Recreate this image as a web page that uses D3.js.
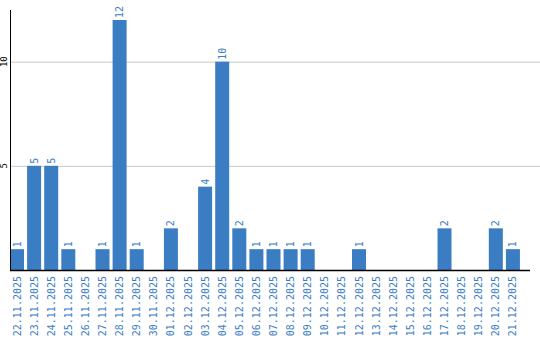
<!doctype html>
<html>
  <head>
    <meta charset="utf-8">
    <title>Daily counts</title>
    <script src="https://cdnjs.cloudflare.com/ajax/libs/d3/7.8.5/d3.min.js"></script>
    <style>
      body { margin: 0; background: #fff; }
      text { font-family: "DejaVu Sans Mono", monospace; }
    </style>
  </head>
  <body>
    <div id="chart"></div>
    <script>
      // data
      const dates = ['22.11.2025','23.11.2025','24.11.2025','25.11.2025','26.11.2025','27.11.2025',
                     '28.11.2025','29.11.2025','30.11.2025','01.12.2025','02.12.2025','03.12.2025',
                     '04.12.2025','05.12.2025','06.12.2025','07.12.2025','08.12.2025','09.12.2025',
                     '10.12.2025','11.12.2025','12.12.2025','13.12.2025','14.12.2025','15.12.2025',
                     '16.12.2025','17.12.2025','18.12.2025','19.12.2025','20.12.2025','21.12.2025'];
      const counts = [1,5,5,1,0,1,12,1,0,2,0,4,10,2,1,1,1,1,0,0,1,0,0,0,0,2,0,0,2,1];
      const yTicks = [5, 10];

      const W = 540, H = 340;
      const left = 10, base = 270, barColor = '#3b7dc3';

      const svg = d3.select('#chart').append('svg')
        .attr('width', W).attr('height', H);

      const x = d3.scaleBand().domain(dates).range([left, left + 17 * dates.length])
        .paddingInner(3 / 17).paddingOuter(0).align(0);
      const y = d3.scaleLinear().domain([0, 12]).range([base, 20]);

      // gridlines
      svg.selectAll('line.grid').data(yTicks).join('line')
        .attr('x1', left).attr('x2', W)
        .attr('y1', d => y(d) + 0.5).attr('y2', d => y(d) + 0.5)
        .attr('stroke', '#c8c8c8');

      // y tick labels
      svg.selectAll('text.ytick').data(yTicks).join('text')
        .attr('transform', d => `translate(7,${y(d)}) rotate(-90)`)
        .attr('text-anchor', 'middle')
        .style('font-size', '9px')
        .attr('fill', '#000')
        .text(d => d);

      // bars
      const bars = dates.map((d, i) => ({ date: d, v: counts[i] })).filter(d => d.v > 0);
      svg.selectAll('rect').data(bars).join('rect')
        .attr('x', d => x(d.date))
        .attr('y', d => y(d.v))
        .attr('width', 14)
        .attr('height', d => base - y(d.v))
        .attr('fill', barColor);

      // value labels
      svg.selectAll('text.val').data(bars).join('text')
        .attr('transform', d => `translate(${x(d.date) + 7},${y(d.v) - 2}) rotate(-90)`)
        .attr('dy', '0.35em')
        .style('font-size', '10px')
        .attr('fill', barColor)
        .text(d => d.v);

      // axes lines
      svg.append('line').attr('x1', left + 0.5).attr('x2', left + 0.5)
        .attr('y1', 10).attr('y2', base + 1).attr('stroke', '#000').attr('stroke-width', 1);
      svg.append('line').attr('x1', left).attr('x2', 530)
        .attr('y1', base + 0.5).attr('y2', base + 0.5).attr('stroke', '#000').attr('stroke-width', 1.5);

      // date labels
      svg.selectAll('text.date').data(dates).join('text')
        .attr('transform', d => `translate(${x(d) + 7},276) rotate(-90)`)
        .attr('text-anchor', 'end')
        .attr('dy', '0.35em')
        .style('font-size', '10px')
        .attr('fill', barColor)
        .text(d => d);
    </script>
  </body>
</html>
